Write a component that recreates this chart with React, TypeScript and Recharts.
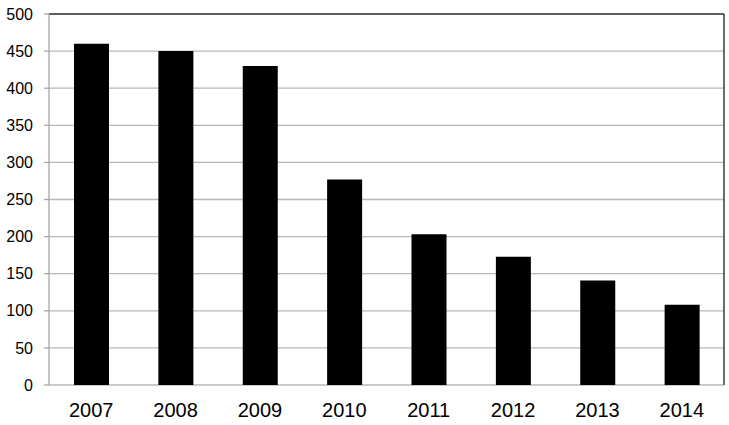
import React from "react";
import {
  BarChart,
  Bar,
  XAxis,
  YAxis,
  CartesianGrid,
  ReferenceLine,
} from "recharts";

const years = ["2007", "2008", "2009", "2010", "2011", "2012", "2013", "2014"];
const values = [460, 450, 430, 277, 203, 173, 141, 108];
const yTicks = [0, 50, 100, 150, 200, 250, 300, 350, 400, 450, 500];
const boundaryTicks = [0, 1, 2, 3, 4, 5, 6, 7, 8];

const data = years.map((y, i) => ({ year: y, value: values[i], idx: i + 0.5 }));

const FONT = "'Liberation Sans', Arial, Helvetica, sans-serif";
const AXIS_GRAY = "#a6a6a6";
const GRID_GRAY = "#b8b8b8";
const DARK = "#3a3a3a";

export default function App() {
  return (
    <div style={{ position: "absolute", left: 0, top: 0, background: "#fff" }}>
      <BarChart
        width={729}
        height={425}
        data={data}
        margin={{ top: 14, right: 5, bottom: 10, left: 0 }}
        style={{ fontFamily: FONT }}
      >
        <CartesianGrid vertical={false} stroke={GRID_GRAY} strokeWidth={1.3} />
        <XAxis
          xAxisId="bound"
          type="number"
          dataKey="idx"
          domain={[0, 8]}
          ticks={boundaryTicks}
          tick={false}
          height={0}
          tickSize={5}
          axisLine={{ stroke: AXIS_GRAY, strokeWidth: 1.3 }}
          tickLine={{ stroke: AXIS_GRAY, strokeWidth: 1.3 }}
        />
        <XAxis
          dataKey="year"
          height={30}
          axisLine={false}
          tickLine={false}
          tickSize={0}
          tickMargin={18}
          tick={{ fill: "#000", fontSize: 20, fontFamily: FONT }}
        />
        <YAxis
          domain={[0, 500]}
          ticks={yTicks}
          width={49}
          tickSize={5}
          tickMargin={11}
          axisLine={{ stroke: AXIS_GRAY, strokeWidth: 1.3 }}
          tickLine={{ stroke: AXIS_GRAY, strokeWidth: 1.3 }}
          tick={{ fill: "#000", fontSize: 16, fontFamily: FONT }}
          interval={0}
        />
        <ReferenceLine y={500} stroke={DARK} strokeWidth={1.5} />
        <ReferenceLine x={8} xAxisId="bound" stroke={DARK} strokeWidth={1.5} />
        <Bar
          dataKey="value"
          fill="#000"
          barSize={35}
          isAnimationActive={false}
        />
      </BarChart>
    </div>
  );
}
